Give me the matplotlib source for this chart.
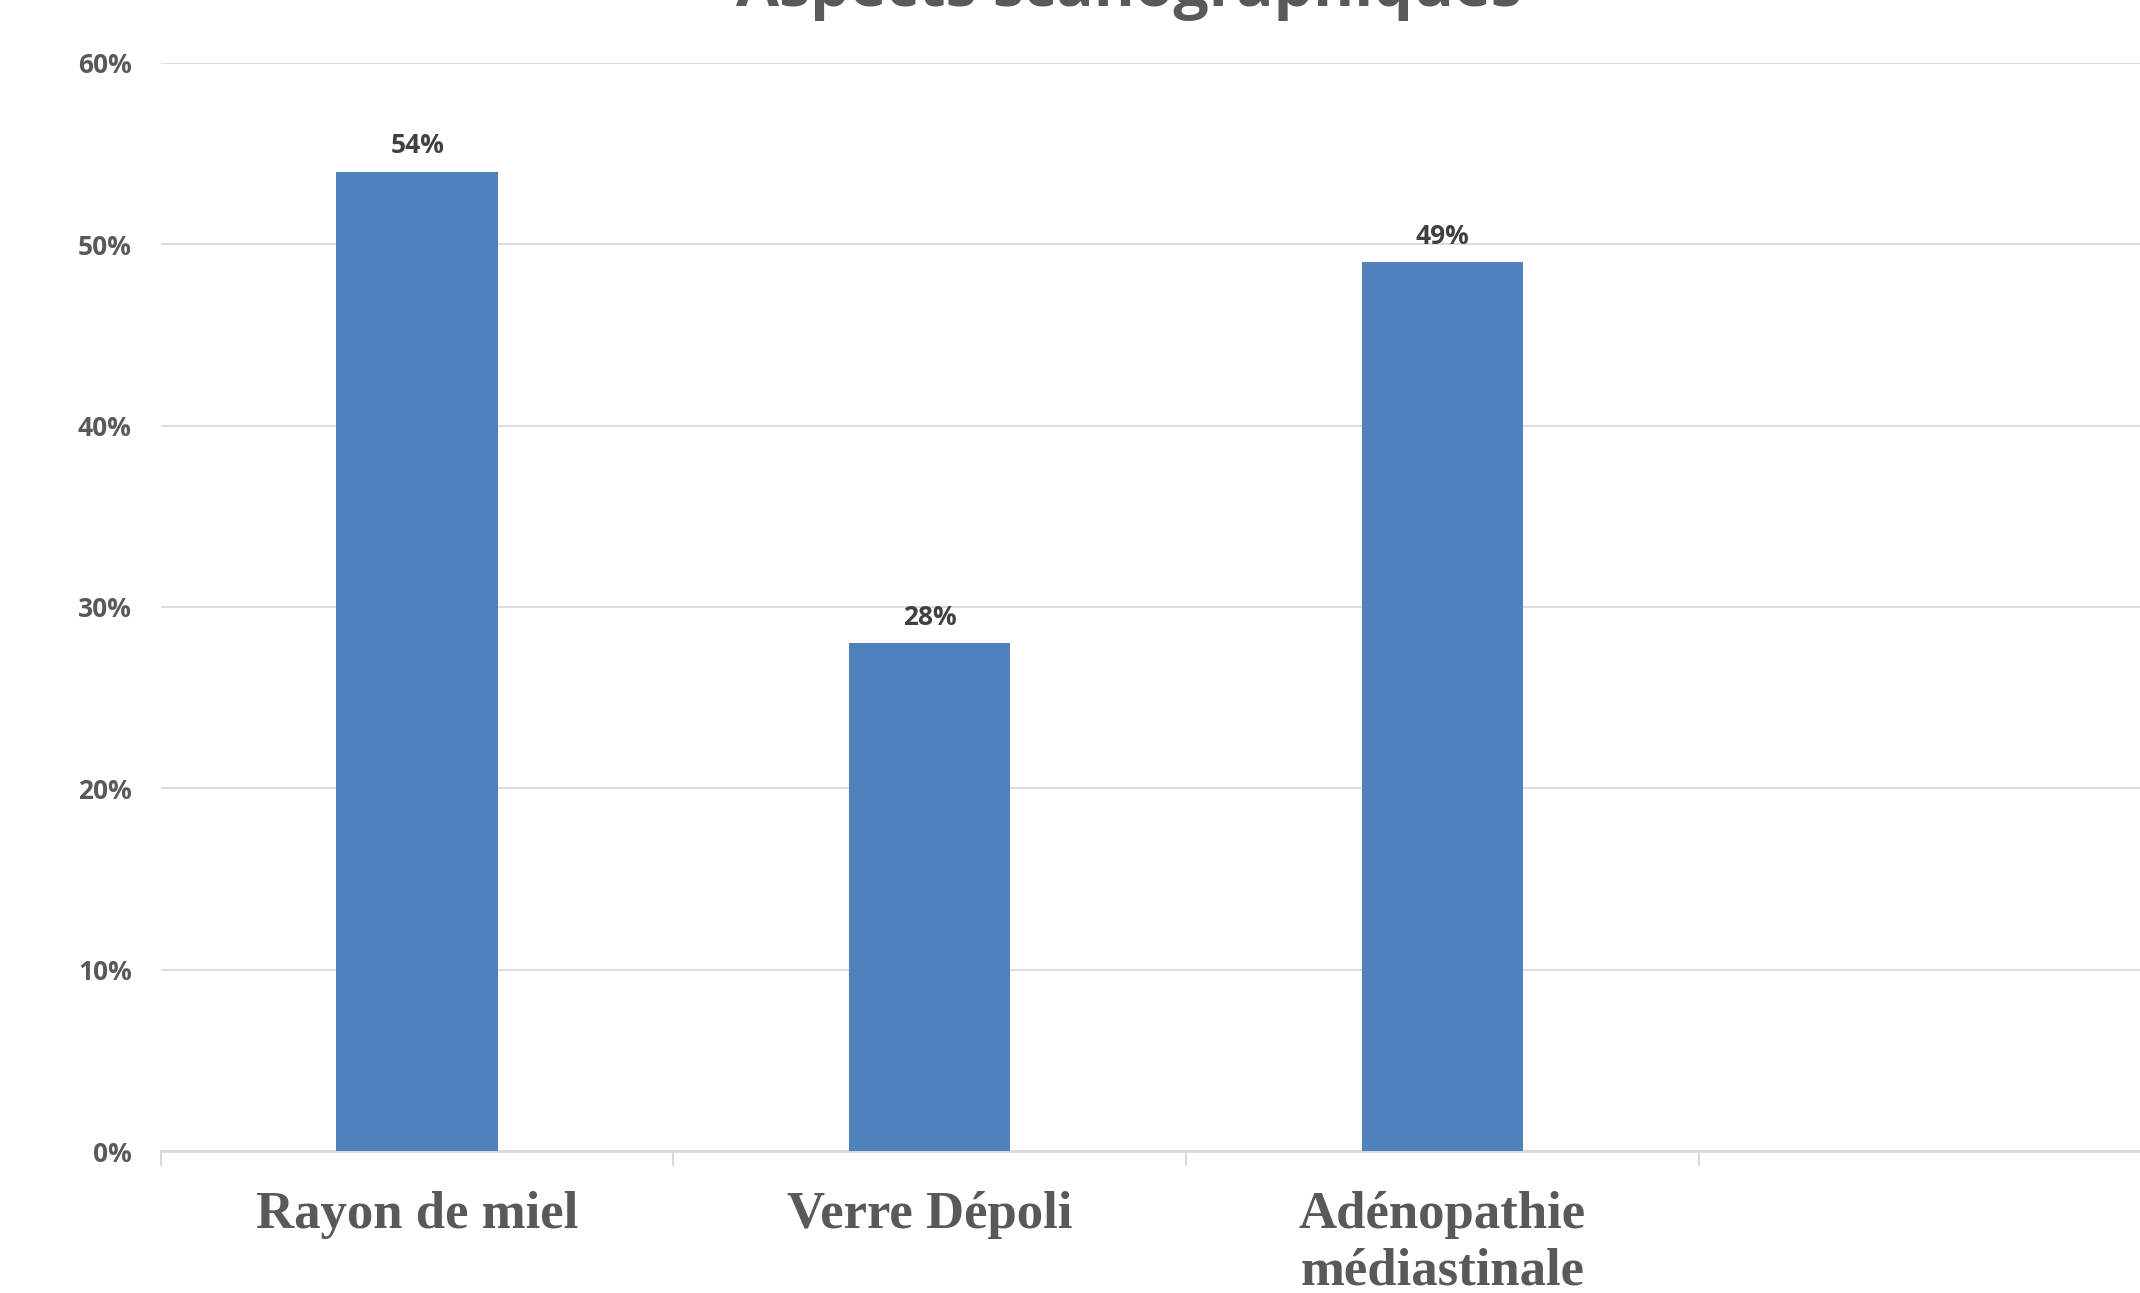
import numpy as np
import matplotlib.pyplot as plt
from matplotlib.ticker import FuncFormatter

categories = ["Rayon de miel", "Verre Dépoli", "Adénopathie\nmédiastinale"]
values = [54, 28, 49]
n_slots = 4  # the chart has one empty category slot on the right
title = "Aspects scanographiques"

fig = plt.figure(figsize=(21.4, 12.93), dpi=100)
# axes run past the right edge, like the cropped original
ax = fig.add_axes([0.0752, 0.1098, 0.958, 0.8416])

x = np.arange(len(categories))
bars = ax.bar(x, values, width=0.315, color="#4f81bd", zorder=3)

ax.set_xlim(-0.5, n_slots - 0.5)
ax.set_ylim(0, 60)
ax.set_yticks(np.arange(0, 61, 10))
ax.yaxis.set_major_formatter(FuncFormatter(lambda v, p: f"{v:.0f}%"))
ax.grid(axis="y", color="#d9d9d9", linewidth=1.3, zorder=0)

for s in ["top", "right", "left"]:
    ax.spines[s].set_visible(False)
ax.spines["bottom"].set_color("#d9d9d9")
ax.spines["bottom"].set_linewidth(2)

ax.tick_params(axis="y", length=0, pad=21, labelsize=19, labelcolor="#595959")
for t in ax.get_yticklabels():
    t.set_fontfamily("Open Sans")
    t.set_fontweight("bold")

ax.set_xticks(x)
ax.set_xticklabels(categories, fontfamily="Liberation Serif", fontweight="bold",
                   fontsize=38, color="#595959", linespacing=1.22)
ax.tick_params(axis="x", length=0, pad=29)
ax.set_xticks(np.arange(-0.5, n_slots, 1.0), minor=True)
ax.tick_params(axis="x", which="minor", length=11, width=1.5, color="#d9d9d9")

for b, v in zip(bars, values):
    ax.annotate(f"{v}%", (b.get_x() + b.get_width() / 2, v), xytext=(0, 9),
                textcoords="offset points", ha="center", va="bottom",
                fontsize=19, fontweight="bold", fontfamily="Open Sans", color="#404040")

fig.text(0.5276, 0.9955, title, ha="center", va="baseline", fontsize=45,
         fontweight="bold", fontfamily="Open Sans", color="#595959")

fig.savefig("out.png", dpi=100)
